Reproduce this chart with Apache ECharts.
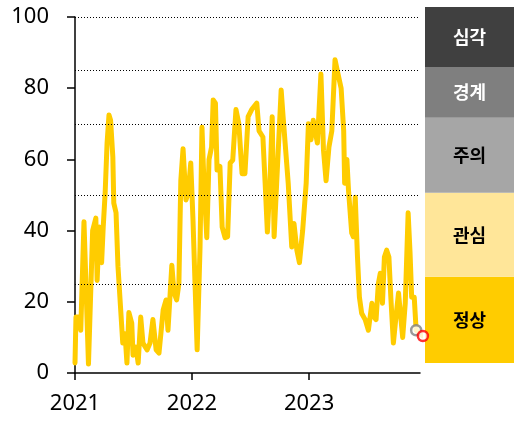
<!DOCTYPE html>
<html>
<head>
<meta charset="utf-8">
<script src="https://cdn.jsdelivr.net/npm/echarts@6/dist/echarts.min.js"></script>
<style>html,body{margin:0;padding:0;background:#fff;}#c{width:527px;height:429px;}</style>
</head>
<body>
<div id="c"></div>
<script>
const dates = ['2021-01-01','2021-01-04','2021-01-14','2021-01-19','2021-01-29','2021-02-12','2021-02-25','2021-03-07','2021-03-11','2021-03-18','2021-03-25','2021-03-30','2021-04-05','2021-04-11','2021-04-17','2021-04-22','2021-04-29','2021-05-02','2021-05-09','2021-05-15','2021-05-21','2021-05-30','2021-06-06','2021-06-12','2021-06-18','2021-06-27','2021-07-01','2021-07-10','2021-07-17','2021-07-25','2021-08-01','2021-08-14','2021-08-23','2021-09-01','2021-09-11','2021-09-20','2021-10-03','2021-10-12','2021-10-18','2021-10-30','2021-11-06','2021-11-14','2021-11-21','2021-11-27','2021-12-04','2021-12-13','2021-12-20','2021-12-28','2022-01-04','2022-01-17','2022-01-26','2022-02-01','2022-02-07','2022-02-16','2022-02-23','2022-03-03','2022-03-08','2022-03-15','2022-03-20','2022-03-29','2022-04-05','2022-04-14','2022-04-22','2022-04-30','2022-05-08','2022-05-18','2022-05-27','2022-06-06','2022-06-15','2022-06-25','2022-07-06','2022-07-22','2022-07-29','2022-08-10','2022-08-17','2022-08-24','2022-09-01','2022-09-08','2022-09-14','2022-09-22','2022-10-06','2022-10-12','2022-10-18','2022-10-28','2022-11-08','2022-11-15','2022-11-24','2022-12-02','2022-12-12','2022-12-23','2022-12-30','2023-01-07','2023-01-14','2023-01-27','2023-02-07','2023-02-15','2023-02-23','2023-03-04','2023-03-13','2023-03-23','2023-03-30','2023-04-11','2023-04-19','2023-04-22','2023-04-29','2023-05-04','2023-05-14','2023-05-19','2023-05-25','2023-06-01','2023-06-07','2023-06-14','2023-06-25','2023-07-05','2023-07-10','2023-07-16','2023-07-23','2023-07-29','2023-08-05','2023-08-11','2023-08-18','2023-08-24','2023-08-31','2023-09-07','2023-09-13','2023-09-21','2023-09-29','2023-10-07','2023-10-14','2023-10-20','2023-10-28','2023-11-06','2023-11-12','2023-11-17','2023-11-25','2023-12-01','2023-12-22'];
const values = [2.8,15.7,15.7,12,42.5,2.5,40,43.5,26,41,
31,41,50.5,64.5,72.5,71,60.7,47.7,45,30,
30,8.4,11,2.8,17,14,5,7.3,2.8,15.7,
8.4,6.5,8.4,15,6.5,5.6,17.7,20.5,12,30.3,
22.5,20.5,25,54,63,48.6,50.5,59,43,6.5,
35.4,69,54,38,60,63.5,76.7,75.8,57,58,
41,38,38.3,59,59.8,74,70,56,56,72,
74,75.8,68,66.3,53.3,39.6,53.3,72,38.3,53.3,
79.5,72,72,53.3,35.4,42,34.5,31,40,53.3,
70,65.5,71,64.6,84,62.6,54,63.5,68,88,
85,80,68,53.3,60,51.4,39.3,38.3,49.4,32.6,
21.3,16.8,15,12,12,19.6,15.7,15,25,28,
19.6,32.6,34.5,32.6,21.3,8.4,15.7,22.5,15.7,10,
19.6,45,33.7,21.3,21.3,12,10.4];
const yearTicks = ['2021-01-01','2022-01-01','2023-01-01'];
const xMin = '2021-01-01';
const xMax = '2023-12-13';
const thresholds = [25, 50, 70, 85, 100];
const bandNames = ['정상', '관심', '주의', '경계', '심각'];
const bandSizes = [24.2, 23.6, 21.1, 14.1, 17.0];
const bandColors = ['#ffcc00', '#ffe699', '#a6a6a6', '#7f7f7f', '#404040'];
const bandText = ['#000', '#000', '#000', '#fff', '#fff'];
const prevIndex = values.length - 2;
const lastIndex = values.length - 1;

const ts = s => { const p = s.split('-').map(Number); return Date.UTC(p[0], p[1] - 1, p[2]); };
const lineData = dates.map((d, i) => [ts(d), values[i]]);

const chart = echarts.init(document.getElementById('c'), null, {renderer: 'canvas'});
const font = "'Noto Sans', 'Noto Sans CJK KR', sans-serif";

const series = [
  {
    type: 'line', xAxisIndex: 0, yAxisIndex: 0, data: [], z: 1, silent: true,
    markLine: {
      silent: true, symbol: 'none', label: {show: false},
      lineStyle: {color: '#000', width: 1, type: [1, 2]},
      data: thresholds.map(t => ({yAxis: t}))
    }
  },
  {
    type: 'line', xAxisIndex: 0, yAxisIndex: 0, data: lineData, z: 3,
    showSymbol: false, symbol: 'none', clip: false,
    lineStyle: {color: '#ffcc00', width: 5, join: 'round', cap: 'round'}
  },
  {
    type: 'scatter', xAxisIndex: 0, yAxisIndex: 0, z: 5, clip: false,
    data: [lineData[prevIndex]], symbol: 'circle', symbolSize: 10,
    itemStyle: {color: '#fff', borderColor: '#7f7f7f', borderWidth: 2.5}
  },
  {
    type: 'scatter', xAxisIndex: 0, yAxisIndex: 0, z: 6, clip: false,
    data: [lineData[lastIndex]], symbol: 'circle', symbolSize: 10,
    itemStyle: {color: '#fff', borderColor: '#ff0000', borderWidth: 2.5}
  }
];
bandNames.forEach((n, i) => {
  series.push({
    type: 'bar', name: n, xAxisIndex: 1, yAxisIndex: 1, stack: 'band',
    barWidth: '100%', data: [bandSizes[i]], silent: true,
    itemStyle: {color: bandColors[i]},
    label: {show: true, position: 'inside', formatter: n, color: bandText[i],
      fontSize: 18, fontWeight: 'bold', fontFamily: "'Noto Sans CJK KR', sans-serif"}
  });
});

chart.setOption({
  animation: false,
  backgroundColor: '#fff',
  grid: [
    {left: 75, right: 107, top: 17, bottom: 56, containLabel: false},
    {left: 425, width: 89, top: 7, height: 356, containLabel: false}
  ],
  xAxis: [
    {
      type: 'value', gridIndex: 0, min: ts(xMin), max: ts(xMax),
      axisLine: {show: true, lineStyle: {color: '#000', width: 1.5}},
      axisTick: {show: true, length: 7, inside: false, customValues: yearTicks.map(ts), lineStyle: {color: '#000', width: 1.5}},
      axisLabel: {show: true, customValues: yearTicks.map(ts), margin: 20, color: '#000', fontSize: 22, fontFamily: font,
        formatter: v => String(new Date(v).getUTCFullYear())},
      splitLine: {show: false}
    },
    {type: 'category', gridIndex: 1, data: [''], show: false, boundaryGap: true}
  ],
  yAxis: [
    {
      type: 'value', gridIndex: 0, min: 0, max: 100, interval: 20,
      axisLine: {show: true, lineStyle: {color: '#000', width: 1.5}},
      axisTick: {show: true, length: 8, lineStyle: {color: '#000', width: 1.5}},
      axisLabel: {show: true, margin: 26, color: '#000', fontSize: 22, fontFamily: font},
      splitLine: {show: false}
    },
    {type: 'value', gridIndex: 1, min: 0, max: 100, show: false}
  ],
  series: series
});
</script>
</body>
</html>
